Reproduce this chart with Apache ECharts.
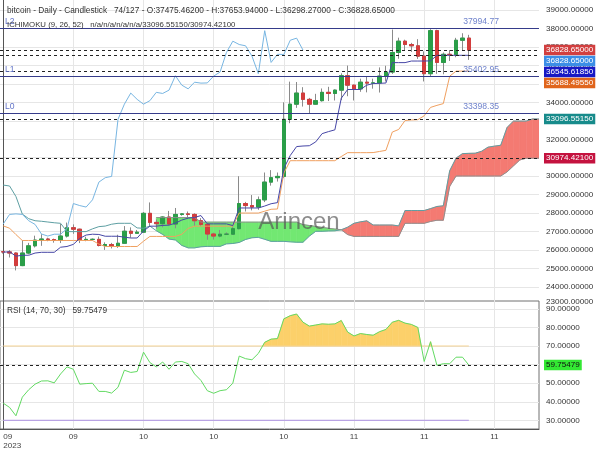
<!DOCTYPE html>
<html>
<head>
<meta charset="utf-8">
<script src="https://cdn.jsdelivr.net/npm/echarts@6.0.0/dist/echarts.min.js"></script>
<style>
html,body{margin:0;padding:0;background:#fff;}
#chart{width:600px;height:450px;}
</style>
</head>
<body>
<div id="chart"></div>
<script>
// ---------- data ----------
const tickPos = [0, 11, 22, 33, 44, 55, 66, 77];
const tickLabels = ['09\n2023', '09', '10', '10', '10', '11', '11', '11'];

const openP = [25910,25900,25840,25160,25840,26230,26540,26600,26570,26530,
26760,27210,27130,26570,26580,26580,26250,26300,26220,26370,
27020,26910,26970,27990,27500,27430,27790,27410,27930,27960,
27930,27590,27390,26870,26760,26860,26860,27160,28520,28410,
28330,28720,29680,29920,29990,33080,33900,34500,34160,33900,
34090,34540,34480,34660,35440,34930,34730,35090,35040,35050,
35420,35640,36700,37310,37130,37060,36500,35550,37880,36160,
36600,36590,37360,37475.462];
const closeP = [25900,25840,25160,25840,26230,26540,26600,26570,26530,26760,
27210,27130,26570,26580,26580,26250,26300,26220,26370,27020,
26910,26970,27990,27500,27430,27790,27410,27930,27960,27930,
27590,27390,26870,26760,26860,26860,27160,28520,28410,28330,
28720,29680,29920,29990,33080,33900,34500,34160,33900,34090,
34540,34480,34660,35440,34930,34730,35090,35040,35050,35420,
35640,36700,37310,37130,37060,36500,35550,37880,36160,36600,
36590,37360,37475.462,36828.65];
const highP = [25945,26000,25880,26540,26390,26780,26860,26670,26620,27410,
27490,27390,27160,26720,26630,26730,26420,26390,26830,27300,
27230,27090,28060,28580,27660,27830,28120,28280,28000,28090,
27990,27730,27480,26940,27090,26960,27290,30000,28610,28980,
28900,30200,30330,30200,34000,35120,35100,34820,34240,34460,
34750,34840,34700,35570,35990,34950,35280,35380,35280,35890,
35980,37940,37500,37390,37220,37420,36760,37960,37930,36700,
36830,37490,37740,37653.94];
const lowP = [25810,25600,24900,25130,25770,26140,26230,26480,26400,26380,
26680,26880,26380,26480,26520,26200,26010,26090,26120,26340,
26670,26880,26950,27290,27160,27230,27380,27180,27860,27720,
27310,27290,26560,26570,26690,26810,26840,27120,28090,28150,
28180,28600,29490,29710,29900,32870,33700,33770,33400,33870,
34040,34070,34100,34120,34330,34100,34570,34540,34740,34530,
35130,35540,36360,36780,36730,36350,35130,35370,35545,35520,
36240,36440,36800,36298.27];

const tenkan = [25885,25910,25670,25720,25720,25840,25880,25880,25880,26155,
26195,26310,26630,26815,26860,26845,26750,26750,26750,26700,
26655,26655,27035,27295,27295,27335,27350,27460,27625,27730,
27765,27870,27420,27420,27420,27420,27325,28280,28280,28280,
28280,28385,28510,28570,30420,31120,31605,31635,31650,31860,
32305,32415,32510,34220,34695,34695,34695,34930,35015,35030,
35045,36150,36150,36150,36235,36235,36235,36245,36545.6185,36545.6185,
36545.6185,36545.6185,36545.6185,36545.6185];
const kijun = [27310,27185,26840,26520,26520,26520,26520,26520,26520,26520,
26520,26520,26520,26520,26520,26325,26195,26195,26195,26195,
26195,26195,26480,26740,26740,26740,26740,26740,26855,27175,
27295,27295,27295,27295,27295,27295,27295,28005,28005,28005,
28005,28105,28210,28225,30170,30840,30840,30840,30840,30840,
30840,30840,30840,31065,31275,31275,31275,31275,31280,31340,
31400,32390,32530,33015,33045,33060,33270,33725,33835,33930,
35415,35688.4955,35688.4955,35688.4955];
const chikou = [27410,27930,27960,27930,27590,27390,26870,26760,26860,26860,
27160,28520,28410,28330,28720,29680,29920,29990,33080,33900,
34500,34160,33900,34090,34540,34480,34660,35440,34930,34730,
35090,35040,35050,35420,35640,36700,37310,37130,37060,36500,
35550,37880,36160,36600,36590,37360,37475,36828.65];
const spanA = [29520,29470,28900,27950,27700,27590,27560,27520,27480,27450,
27000,27000,27000,27000,27150,27270,27300,27400,27450,27450,
27450,27200,27180,27300,27050,26850,26597.5,26547.5,26255,26120,
26120,26180,26200,26200,26200,26337.5,26357.5,26415,26575,26667.5,
26690,26585,26472.5,26472.5,26472.5,26447.5,26425,26425,26757.5,27017.5,
27017.5,27037.5,27045,27100,27240,27452.5,27530,27582.5,27357.5,27357.5,
27357.5,27357.5,27310,28142.5,28142.5,28142.5,28142.5,28245,28360,28397.5,
30295,30980,31222.5,31237.5,31245,31350,31572.5,31627.5,31675,32642.5,
32985,32985,32985,33102.5,33096.5515];
const spanB = [null,null,null,null,null,null,null,null,null,null,
null,null,null,null,null,null,null,null,null,null,
null,null,null,null,27760,27760,27760,27760,27760,27760,
27760,27515,27515,27515,27515,27515,27515,27515,27515,27515,
27515,27515,27515,27515,27515,27515,27515,27380,27330,27280,
27230,27180,27140,27100,26840,26740,26740,26740,26740,26740,
26740,26740,26740,27450,27450,27450,27450,27550,27615,27615,
29450,30010,30010,30010,30010,30010,30010,30010,30010,30235,
30560,30880,30975,30975,30974.421];

const rsi = [39.3,37,32.5,42.5,46.5,49.5,51.2,51.3,50.2,55,
58.8,57.5,49.5,49.8,50,45.6,45.6,44.7,47.8,57,
55.8,56.3,66.7,61.1,58.8,61.4,57.5,61.4,61.7,60.5,
55,51.5,46,44.6,46,46.5,50,64.6,63.2,62.6,
66,72,73.7,74,84.6,86.3,87.2,82.8,80.7,81.3,
81.9,81.7,81.9,83.7,77.5,75.4,76.7,76.2,75.8,77.7,
78.9,82.8,83.8,82.3,81.6,80,61.7,72.3,59.6,60.5,
60.5,64,64,59.75479];
const rsiLevels = [70, 30];

const levelNames = ['L2', 'L1', 'L0'];
const levelValues = [37994.77, 35402.95, 33398.35];
const tagValues = [36828.65, 36828.65, 36545.6185, 35688.4955, 33096.5515, 30974.421];
const tagColors = ['#d23f3f', '#3b8ee6', '#1818c4', '#e0651c', '#178b8b', '#c4123f'];
const rsiTicks = [30, 40, 50, 60, 70, 80, 90];

// ---------- helpers ----------
const FF = 'Liberation Sans';
const FS = 8.1;
const nBars = closeP.length;
const pairs = arr => { const o = []; arr.forEach((v, i) => { if (v != null) o.push([i, v]); }); return o; };

function bandRender(colorPos, colorNeg, onlyPos) {
  return function (params, api) {
    const x0 = api.value(0), a0 = api.value(1), b0 = api.value(2), a1 = api.value(3), b1 = api.value(4);
    const x1 = x0 + 1;
    const d0 = a0 - b0, d1 = a1 - b1;
    const polys = [];
    if (d0 * d1 >= 0) {
      if (d0 === 0 && d1 === 0) return;
      polys.push({ p: [[x0, a0], [x1, a1], [x1, b1], [x0, b0]], s: (d0 + d1) > 0 ? 1 : -1 });
    } else {
      const t = d0 / (d0 - d1);
      const xc = x0 + t, yc = a0 + t * (a1 - a0);
      polys.push({ p: [[x0, a0], [xc, yc], [x0, b0]], s: d0 > 0 ? 1 : -1 });
      polys.push({ p: [[xc, yc], [x1, a1], [x1, b1]], s: d1 > 0 ? 1 : -1 });
    }
    const children = polys.filter(q => !(onlyPos && q.s < 0)).map(q => {
      const c = q.s > 0 ? colorPos : colorNeg;
      return { type: 'polygon', shape: { points: q.p.map(pt => api.coord(pt)) }, style: { fill: c, stroke: c, lineWidth: 0.6 } };
    });
    return { type: 'group', children };
  };
}

const cloudData = [];
for (let i = 0; i < spanA.length - 1; i++) {
  if (spanB[i] != null && spanB[i + 1] != null) cloudData.push([i, spanA[i], spanB[i], spanA[i + 1], spanB[i + 1]]);
}
const rsiFillData = [];
for (let i = 0; i < rsi.length - 1; i++) rsiFillData.push([i, rsi[i], rsiLevels[0], rsi[i + 1], rsiLevels[0]]);

const wickData = openP.map((o, i) => [i, o, closeP[i], lowP[i], highP[i]]);
const bodyData = openP.map((o, i) => [i, o, closeP[i], Math.min(o, closeP[i]), Math.max(o, closeP[i])]);

const dashedVals = tagValues.filter((v, i) => tagValues.indexOf(v) === i);
const markLineData = [];
levelValues.forEach((v, i) => {
  markLineData.push({ yAxis: v, lineStyle: { color: '#353b8a', width: 1.2, type: 'solid' },
    label: { show: true, position: 'insideStartTop', formatter: levelNames[i], color: '#6274c8', fontSize: 8.6, fontFamily: FF, distance: [5, 2] } });
  markLineData.push({ yAxis: v, lineStyle: { color: '#353b8a', width: 1.2, type: 'solid' },
    label: { show: true, position: 'insideEndTop', formatter: v.toFixed(2), color: '#7083cc', fontSize: 8.6, fontFamily: FF, distance: [40, 2] } });
});
dashedVals.forEach(v => {
  markLineData.push({ yAxis: v, lineStyle: { color: '#222', width: 1, type: [3, 3] }, label: { show: false } });
});

const xCommon = {
  type: 'value', min: -0.5, max: 84,
  axisTick: { show: false, customValues: tickPos },
  splitLine: { show: true, lineStyle: { color: '#e6e6e6', width: 1 } }
};

const option = {
  animation: false,
  backgroundColor: '#fff',
  textStyle: { fontFamily: FF },
  grid: [
    { left: 0, right: 61, top: 0, height: 305.5 },
    { left: 0, right: 61, top: 301, height: 131, show: true, borderColor: '#707070', borderWidth: 1 }
  ],
  xAxis: [
    Object.assign({}, xCommon, { gridIndex: 0, axisLine: { show: false }, axisLabel: { show: false } }),
    Object.assign({}, xCommon, { gridIndex: 1,
      axisLine: { show: true, lineStyle: { color: '#555' } },
      axisLabel: { show: true, customValues: tickPos, color: '#444', fontSize: FS, lineHeight: 9, margin: 3,
        alignMinLabel: 'left',
        formatter: v => tickLabels[tickPos.indexOf(Math.round(v))] || '' } })
  ],
  yAxis: [
    { gridIndex: 0, type: 'value', position: 'right', min: 23000, max: 39540, interval: 1000,
      axisLine: { show: true, lineStyle: { color: '#555' } }, axisTick: { show: false },
      axisLabel: { color: '#333', fontSize: FS, margin: 7, showMaxLabel: false, formatter: v => v.toFixed(5), verticalAlignMinLabel: 'bottom' },
      splitLine: { show: true, showMinLine: false, showMaxLine: false, lineStyle: { color: '#e6e6e6' } } },
    { gridIndex: 1, type: 'value', position: 'right', min: 25.4, max: 94.2,
      axisLine: { show: true, lineStyle: { color: '#555' } },
      axisTick: { show: false, customValues: rsiTicks },
      axisLabel: { color: '#333', fontSize: FS, margin: 7, customValues: rsiTicks, formatter: v => v.toFixed(5) },
      splitLine: { show: true, lineStyle: { color: '#e6e6e6' } } }
  ],
  series: [
    { name: 'cloud', type: 'custom', xAxisIndex: 0, yAxisIndex: 0, silent: true, clip: true,
      data: cloudData, encode: { x: 0, y: [1, 2] }, renderItem: bandRender('#f47a72', '#72e872', false) },
    { name: 'spanA', type: 'line', xAxisIndex: 0, yAxisIndex: 0, data: pairs(spanA), symbol: 'none',
      lineStyle: { color: '#5e9fa3', width: 1 }, silent: true },
    { name: 'spanB', type: 'line', xAxisIndex: 0, yAxisIndex: 0, data: pairs(spanB), symbol: 'none',
      lineStyle: { color: '#8f8f8f', width: 1 }, silent: true },
    { name: 'wicks', type: 'candlestick', xAxisIndex: 0, yAxisIndex: 0, data: wickData, encode: { x: 0, y: [1, 2, 3, 4] },
      barWidth: 4, itemStyle: { color: '#8a8a8a', color0: '#8a8a8a', borderColor: '#8a8a8a', borderColor0: '#8a8a8a', borderWidth: 1 } },
    { name: 'bodies', type: 'candlestick', xAxisIndex: 0, yAxisIndex: 0, data: bodyData, encode: { x: 0, y: [1, 2, 3, 4] },
      barWidth: 4, itemStyle: { color: '#2a9e48', color0: '#d33c3c', borderColor: '#2a9e48', borderColor0: '#d33c3c', borderWidth: 1 } },
    { name: 'kijun', type: 'line', xAxisIndex: 0, yAxisIndex: 0, data: pairs(kijun), symbol: 'none',
      lineStyle: { color: '#f0a060', width: 1 }, silent: true },
    { name: 'tenkan', type: 'line', xAxisIndex: 0, yAxisIndex: 0, data: pairs(tenkan), symbol: 'none',
      lineStyle: { color: '#4646a6', width: 1 }, silent: true },
    { name: 'chikou', type: 'line', xAxisIndex: 0, yAxisIndex: 0, data: pairs(chikou), symbol: 'none',
      lineStyle: { color: '#78b6e2', width: 1 }, silent: true, z: 3,
      markLine: { symbol: 'none', silent: true, animation: false, data: markLineData } },
    { name: 'rsiFill', type: 'custom', xAxisIndex: 1, yAxisIndex: 1, silent: true, clip: true,
      data: rsiFillData, encode: { x: 0, y: [1, 2] }, renderItem: bandRender('#fcd06a', '#fcd06a', true) },
    { name: 'ob', type: 'line', xAxisIndex: 1, yAxisIndex: 1, data: [[0, rsiLevels[0]], [nBars - 1, rsiLevels[0]]], symbol: 'none',
      lineStyle: { color: '#f6d394', width: 1.2 }, silent: true },
    { name: 'os', type: 'line', xAxisIndex: 1, yAxisIndex: 1, data: [[0, rsiLevels[1]], [nBars - 1, rsiLevels[1]]], symbol: 'none',
      lineStyle: { color: '#b9a3e3', width: 1.2 }, silent: true },
    { name: 'rsi', type: 'line', xAxisIndex: 1, yAxisIndex: 1, data: pairs(rsi), symbol: 'none',
      lineStyle: { color: '#62da62', width: 1 }, silent: true,
      markLine: { symbol: 'none', silent: true, animation: false,
        data: [{ yAxis: rsi[nBars - 1], lineStyle: { color: '#222', width: 1, type: [3, 3] }, label: { show: false } }] } }
  ]
};

const chart = echarts.init(document.getElementById('chart'));
chart.setOption(option);

// ---------- texts & value tags ----------
const fmt5 = v => v.toFixed(5);
const header1 = 'bitcoin - Daily - Candlestick   ' + nBars + '/127 - O:' + fmt5(openP[nBars - 1]) + ' - H:' + fmt5(highP[nBars - 1]) +
  ' - L:' + fmt5(lowP[nBars - 1]) + ' - C:' + fmt5(closeP[nBars - 1]);
const header2 = 'ICHIMOKU (9, 26, 52)   n/a/n/a/n/a/n/a/' + fmt5(tagValues[4]) + '/' + fmt5(tagValues[5]);
const rsiTitle = 'RSI (14, 70, 30)   ' + fmt5(rsi[nBars - 1]);

const elements = [
  { type: 'text', x: 7, y: 10.5, z: 100, silent: true, style: { text: header1, fill: '#333', font: '8.3px "Liberation Sans"', verticalAlign: 'middle', align: 'left' } },
  { type: 'text', x: 7, y: 25, z: 100, silent: true, style: { text: header2, fill: '#333', font: '7.8px "Liberation Sans"', verticalAlign: 'middle', align: 'left' } },
  { type: 'text', x: 7, y: 311, z: 100, silent: true, style: { text: rsiTitle, fill: '#333', font: '8.3px "Liberation Sans"', verticalAlign: 'middle', align: 'left' } },
  { type: 'text', x: 299, y: 222, z: 90, silent: true, style: { text: 'Arincen', fill: 'rgba(85,85,85,0.68)', font: '24px "Liberation Sans"', verticalAlign: 'middle', align: 'center' } }
];
let prevY = -1e9;
tagValues.forEach((v, i) => {
  let y = chart.convertToPixel({ yAxisIndex: 0 }, v);
  y = Math.max(y, prevY + 11);
  prevY = y;
  elements.push({ type: 'text', x: 544, y: y, z: 110, silent: true,
    style: { text: fmt5(v), fill: '#fff', font: FS + 'px "Liberation Sans"', backgroundColor: tagColors[i], padding: [1.5, 2, 1, 2], verticalAlign: 'middle', align: 'left' } });
});
const ry = chart.convertToPixel({ yAxisIndex: 1 }, rsi[nBars - 1]);
elements.push({ type: 'text', x: 544, y: ry, z: 110, silent: true,
  style: { text: fmt5(rsi[nBars - 1]), fill: '#111', font: FS + 'px "Liberation Sans"', backgroundColor: '#33e833', padding: [1.5, 2, 1, 2], verticalAlign: 'middle', align: 'left' } });

chart.setOption({ graphic: { elements } });
</script>
</body>
</html>
